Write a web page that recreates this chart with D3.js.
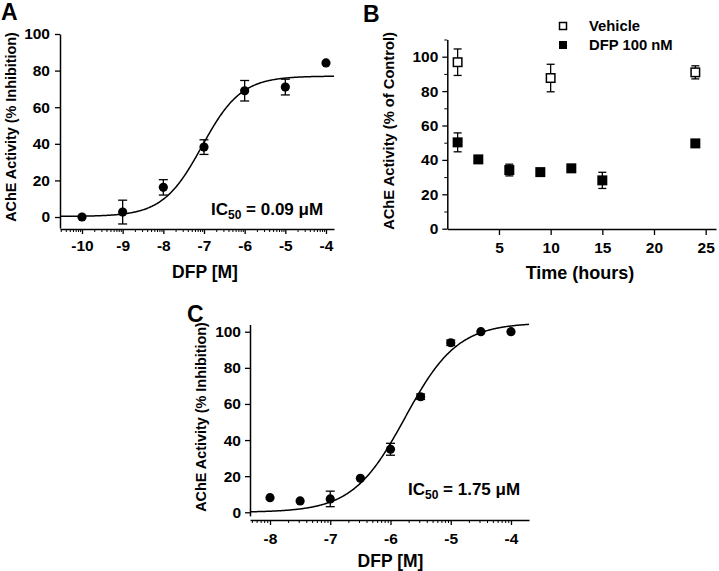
<!DOCTYPE html>
<html><head><meta charset="utf-8">
<script src="https://cdn.jsdelivr.net/npm/d3@7"></script>
<style>
html,body{margin:0;padding:0;background:#fff;}
svg text{font-family:"Liberation Sans",Arial,sans-serif;font-weight:bold;fill:#000;}
</style></head>
<body>
<svg id="chart" width="719" height="571"></svg>
<script>
// ---------- Data ----------
// Panel A: log10 [DFP] (M) vs % inhibition
const aLogDose = [-10, -9, -8, -7, -6, -5, -4];
const aMean    = [0, 2.7, 16.2, 38.2, 69, 71, 84.2];
const aSEM     = [0, 6.5, 4.2, 4.0, 5.6, 4.3, 0];
const aFit = {bottom: 0.3, top: 77, logIC50: -7.05, hill: 0.9};
const aXTicks = [-10, -9, -8, -7, -6, -5, -4];
const aYTicks = [0, 20, 40, 60, 80, 100];

// Panel B: time course
const bVehTime = [1, 10, 24];
const bVehMean = [96.8, 87.6, 90.9];
const bVehSEM  = [7.7, 8.0, 3.8];
const bDfpTime = [1, 3, 6, 9, 12, 15, 24];
const bDfpMean = [50.2, 40.3, 34.1, 32.9, 35.1, 28.1, 49.6];
const bDfpSEM  = [5.5, 1.0, 3.4, 1.0, 1.0, 4.7, 1.0];
const bXTicks = [5, 10, 15, 20, 25];
const bYTicks = [0, 20, 40, 60, 80, 100];
const bYMinor = [10, 30, 50, 70, 90, 110];
const bLegend = ["Vehicle", "DFP 100 nM"];

// Panel C
const cLogDose = [-8, -7.5, -7, -6.5, -6, -5.5, -5, -4.5, -4];
const cMean    = [8.1, 6.3, 7.4, 18.8, 34.9, 64.0, 93.9, 100, 100];
const cSEM     = [0.8, 0.8, 4.3, 1.0, 3.3, 1.5, 1.5, 0.8, 0.8];
const cFit = {bottom: 0, top: 105, logIC50: -5.757, hill: 1.0};
const cXTicks = [-8, -7, -6, -5, -4];
const cYTicks = [0, 20, 40, 60, 80, 100];

// ---------- Helpers ----------
const svg = d3.select("#chart");
const fmt = d => String(d);
function logistic(p, x) { return p.bottom + (p.top - p.bottom) / (1 + Math.pow(10, (p.logIC50 - x) * p.hill)); }
function minorLog(domain) {
  const out = [];
  for (let dec = Math.floor(domain[0]) - 1; dec <= Math.ceil(domain[1]); dec++) {
    for (let k = 2; k <= 9; k++) {
      const v = dec + Math.log10(k);
      if (v >= domain[0] && v <= domain[1]) out.push(v);
    }
  }
  return out;
}
function styleAxis(g) {
  g.attr("font-family", null).attr("font-size", null);
  g.select(".domain").attr("stroke", "#000").attr("stroke-width", 1.5);
  g.selectAll(".tick line").attr("stroke", "#000").attr("stroke-width", 1.3);
  g.selectAll(".tick text").style("font-size", "15.5px");
}
function errorBars(g, xs, ys, es, x, y, capW) {
  const data = xs.map((d, i) => ({x: d, y: ys[i], e: es[i]})).filter(d => d.e > 1.2);
  const eg = g.append("g").attr("stroke", "#000").attr("stroke-width", 1.3);
  data.forEach(d => {
    eg.append("line").attr("x1", x(d.x)).attr("x2", x(d.x)).attr("y1", y(d.y - d.e)).attr("y2", y(d.y + d.e));
    [d.y - d.e, d.y + d.e].forEach(v => {
      eg.append("line").attr("x1", x(d.x) - capW / 2).attr("x2", x(d.x) + capW / 2).attr("y1", y(v)).attr("y2", y(v));
    });
  });
}
function ic50Label(g, xPos, yPos, value) {
  const t = g.append("text").attr("x", xPos).attr("y", yPos).style("font-size", "17px");
  t.append("tspan").text("IC");
  t.append("tspan").text("50").style("font-size", "12px").attr("dy", 4);
  t.append("tspan").text(" = " + value + " \u03BCM").attr("dy", -4);
}

// ---------- Panel A ----------
{
  const x = d3.scaleLinear().domain([-10.541, -3.803]).range([60, 334]);
  const y = d3.scaleLinear().domain([-6, 100]).range([228, 34]);
  const g = svg.append("g");
  const xa = g.append("g").attr("transform", "translate(0,229)")
    .call(d3.axisBottom(x).tickValues(aXTicks).tickFormat(fmt).tickSize(5).tickPadding(6).tickSizeOuter(0));
  styleAxis(xa);
  const xm = g.append("g").attr("transform", "translate(0,229)")
    .call(d3.axisBottom(x).tickValues(minorLog(x.domain())).tickFormat("").tickSize(3).tickSizeOuter(0));
  xm.select(".domain").remove();
  xm.selectAll(".tick line").attr("stroke", "#000").attr("stroke-width", 1);
  const ya = g.append("g").attr("transform", "translate(60,0)")
    .call(d3.axisLeft(y).tickValues(aYTicks).tickFormat(fmt).tickSize(5).tickPadding(5).tickSizeOuter(0));
  styleAxis(ya);

  const xs = d3.range(0, 401).map(i => x.domain()[0] + (x.domain()[1] - x.domain()[0]) * i / 400);
  g.append("path").datum(xs).attr("fill", "none").attr("stroke", "#000").attr("stroke-width", 1.5)
    .attr("d", d3.line().x(d => x(d)).y(d => y(logistic(aFit, d))));
  errorBars(g, aLogDose, aMean, aSEM, x, y, 9);
  g.selectAll("circle.a").data(aLogDose).join("circle")
    .attr("cx", d => x(d)).attr("cy", (d, i) => y(aMean[i])).attr("r", 4.6).attr("fill", "#000");
  ic50Label(g, 211, 215, "0.09");
  g.append("text").attr("x", 205).attr("y", 278).attr("text-anchor", "middle").style("font-size", "17.5px").text("DFP [M]");
  g.append("text").attr("transform", "translate(16,127) rotate(-90)").attr("text-anchor", "middle").style("font-size", "14.4px").text("AChE Activity (% Inhibition)");
  g.append("text").attr("x", 1).attr("y", 20).style("font-size", "23px").text("A");
}

// ---------- Panel B ----------
{
  const x = d3.scaleLinear().domain([0, 26]).range([447.3, 716]);
  const y = d3.scaleLinear().domain([0, 110]).range([228.7, 39.5]);
  const g = svg.append("g");
  const xa = g.append("g").attr("transform", "translate(0,229)")
    .call(d3.axisBottom(x).tickValues(bXTicks).tickFormat(fmt).tickSize(6).tickPadding(7).tickSizeOuter(0));
  styleAxis(xa);
  const ya = g.append("g").attr("transform", "translate(447.3,0)")
    .call(d3.axisLeft(y).tickValues(bYTicks).tickFormat(fmt).tickSize(5).tickPadding(4).tickSizeOuter(0));
  styleAxis(ya);
  const ym = g.append("g").attr("transform", "translate(447.3,0)")
    .call(d3.axisLeft(y).tickValues(bYMinor).tickFormat("").tickSize(3).tickSizeOuter(0));
  ym.select(".domain").remove();
  ym.selectAll(".tick line").attr("stroke", "#000").attr("stroke-width", 1);

  errorBars(g, bVehTime, bVehMean, bVehSEM, x, y, 8);
  errorBars(g, bDfpTime, bDfpMean, bDfpSEM, x, y, 8);
  const s = 10;
  g.selectAll("rect.v").data(bVehTime).join("rect")
    .attr("x", d => x(d) - s / 2 + 0.75).attr("y", (d, i) => y(bVehMean[i]) - s / 2 + 0.75)
    .attr("width", s - 1.5).attr("height", s - 1.5).attr("fill", "#fff").attr("stroke", "#000").attr("stroke-width", 1.5);
  g.selectAll("rect.d").data(bDfpTime).join("rect")
    .attr("x", d => x(d) - s / 2).attr("y", (d, i) => y(bDfpMean[i]) - s / 2)
    .attr("width", s).attr("height", s).attr("fill", "#000");

  // legend
  const lg = g.append("g");
  lg.append("rect").attr("x", 559.5).attr("y", 22.5).attr("width", 7).attr("height", 7).attr("fill", "#fff").attr("stroke", "#000").attr("stroke-width", 1.5);
  lg.append("rect").attr("x", 559).attr("y", 41).attr("width", 8).attr("height", 8).attr("fill", "#000");
  lg.append("text").attr("x", 589).attr("y", 31).style("font-size", "14.8px").text(bLegend[0]);
  lg.append("text").attr("x", 589).attr("y", 50).style("font-size", "14.8px").text(bLegend[1]);

  g.append("text").attr("x", 580).attr("y", 279).attr("text-anchor", "middle").style("font-size", "18px").text("Time (hours)");
  g.append("text").attr("transform", "translate(394,131) rotate(-90)").attr("text-anchor", "middle").style("font-size", "14.7px").text("AChE Activity (% of Control)");
  g.append("text").attr("x", 363).attr("y", 22).style("font-size", "23px").text("B");
}

// ---------- Panel C ----------
{
  const x = d3.scaleLinear().domain([-8.332, -3.701]).range([250, 529]);
  const y = d3.scaleLinear().domain([-2, 104]).range([515.9, 324.5]);
  const g = svg.append("g");
  const xa = g.append("g").attr("transform", "translate(0,520)")
    .call(d3.axisBottom(x).tickValues(cXTicks).tickFormat(fmt).tickSize(5).tickPadding(8).tickSizeOuter(0));
  styleAxis(xa);
  const xm = g.append("g").attr("transform", "translate(0,520)")
    .call(d3.axisBottom(x).tickValues(minorLog(x.domain())).tickFormat("").tickSize(3).tickSizeOuter(0));
  xm.select(".domain").remove();
  xm.selectAll(".tick line").attr("stroke", "#000").attr("stroke-width", 1);
  const ya = g.append("g").attr("transform", "translate(250,0)")
    .call(d3.axisLeft(y).tickValues(cYTicks).tickFormat(fmt).tickSize(5).tickPadding(4).tickSizeOuter(0));
  styleAxis(ya);

  const xs = d3.range(0, 401).map(i => x.domain()[0] + (x.domain()[1] - x.domain()[0]) * i / 400);
  g.append("path").datum(xs).attr("fill", "none").attr("stroke", "#000").attr("stroke-width", 1.5)
    .attr("d", d3.line().x(d => x(d)).y(d => y(logistic(cFit, d))));
  errorBars(g, cLogDose, cMean, cSEM, x, y, 9);
  g.selectAll("circle.c").data(cLogDose).join("circle")
    .attr("cx", d => x(d)).attr("cy", (d, i) => y(cMean[i])).attr("r", 4.6).attr("fill", "#000");
  ic50Label(g, 408, 495, "1.75");
  g.append("text").attr("x", 390.5).attr("y", 567).attr("text-anchor", "middle").style("font-size", "17.5px").text("DFP [M]");
  g.append("text").attr("transform", "translate(206,417) rotate(-90)").attr("text-anchor", "middle").style("font-size", "14.4px").text("AChE Activity (% Inhibition)");
  g.append("text").attr("x", 187).attr("y", 322).style("font-size", "23px").text("C");
}
</script>
</body></html>
